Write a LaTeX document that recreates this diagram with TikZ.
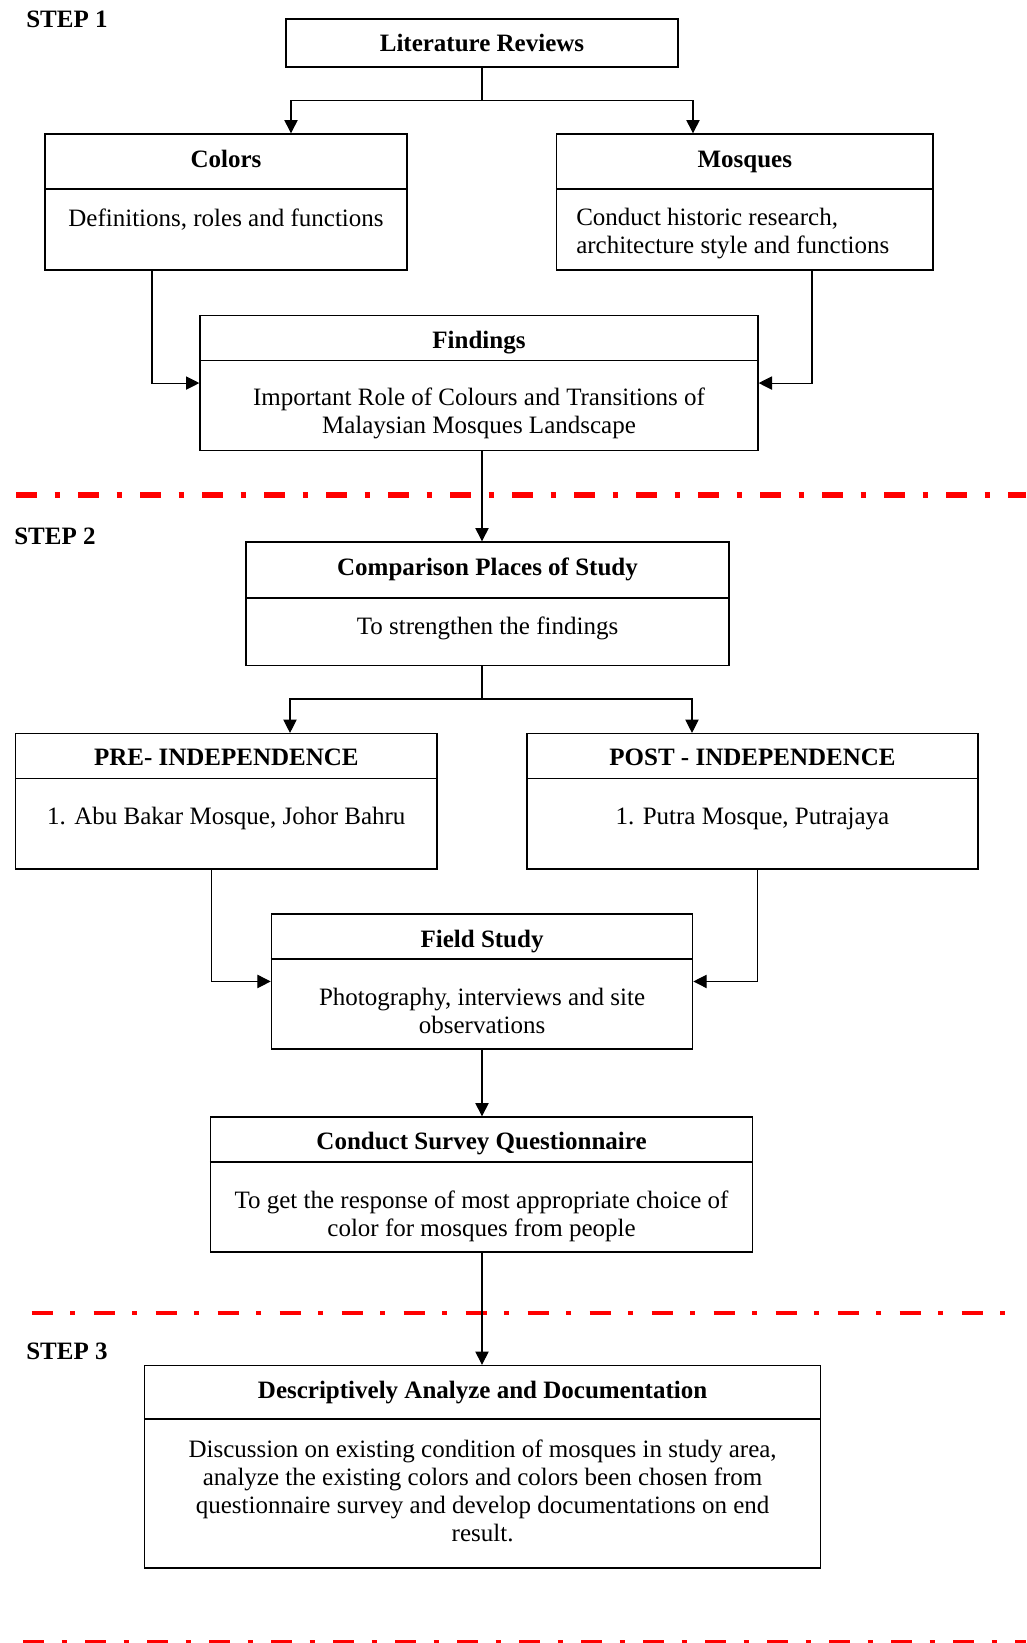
\documentclass[tikz,border=0pt]{standalone}
\usepackage{fontspec}
\setmainfont{Liberation Serif}
\usetikzlibrary{positioning,fit,arrows.meta}

\begin{document}
\begin{tikzpicture}[x=0.75pt, y=-0.75pt, font=\fontsize{18.75}{21}\selectfont]
    \tikzstyle{frame} = [draw=black, line width=1pt, inner sep=0pt, rectangle];
    \tikzstyle{divider} = [draw=black, line width=1pt];
    \tikzstyle{title} = [font=\fontsize{18.75}{21}\selectfont\bfseries, inner sep=0pt, text height=12.4pt, text depth=0pt];
    \tikzstyle{body} = [align=center, inner sep=0pt];
    \tikzstyle{flow} = [draw=black, line width=0.8pt, -{Triangle[length=10pt, width=10pt]}];
    \tikzstyle{stepline} = [draw=red, dash pattern=on 15.75pt off 13.3pt on 3.75pt off 13.7pt];
    \useasboundingbox (0,0) rectangle (1026,1643);

    % step 1
    \node [title, anchor=west] (step1) at (26,19) {STEP 1};
    \node [frame, fit={(286,19) (678,67)}] (lit) {};
    \node [title] (litT) at (lit.center) {Literature Reviews};

    \node [frame, fit={(45,134) (407,270)}] (col) {};
    \draw [divider] (col.west |- 0,189) -- (col.east |- 0,189);
    \node [title] (colT) at (col.north |- 0,159) {Colors};
    \node [body] (colB) at (col.north |- 0,219.5) {Definitions, roles and functions};

    \node [frame, fit={(556.5,134) (933,270)}] (mos) {};
    \draw [divider] (mos.west |- 0,189) -- (mos.east |- 0,189);
    \node [title] (mosT) at (mos.north |- 0,159) {Mosques};
    \node [body, align=left, anchor=west] (mosB) at (576,234) {Conduct historic research,\\architecture style and functions};

    \node [frame, fit={(200,315.5) (758,450.6)}] (fin) {};
    \draw [divider] (fin.west |- 0,360.5) -- (fin.east |- 0,360.5);
    \node [title] (finT) at (fin.north |- 0,340) {Findings};
    \node [body] (finB) at (fin.north |- 0,413.5) {Important Role of Colours and Transitions of\\Malaysian Mosques Landscape};

    \coordinate (spine) at (482,0);
    \coordinate (litL) at (291,100.6);
    \coordinate (litR) at (693,100.6);
    \coordinate (colout) at (152,0);
    \coordinate (mosout) at (812,0);
    \draw [flow] (lit.south) |- (litL) -- (col.north -| litL);
    \draw [flow] (lit.south) |- (litR) -- (mos.north -| litR);
    \draw [flow] (col.south -| colout) |- (fin.west);
    \draw [flow] (mos.south -| mosout) |- (fin.east);

    \draw [stepline, line width=4.5pt] (16,495) -- (1026,495);

    % step 2
    \node [title, anchor=west] (step2) at (14,536.5) {STEP 2};
    \node [frame, fit={(246,542) (729,665.5)}] (cmp) {};
    \draw [divider] (cmp.west |- 0,598) -- (cmp.east |- 0,598);
    \node [title] (cmpT) at (cmp.north |- 0,567) {Comparison Places of Study};
    \node [body] (cmpB) at (cmp.north |- 0,628) {To strengthen the findings};

    \node [frame, fit={(15.7,733.6) (437,869)}] (pre) {};
    \draw [divider] (pre.west |- 0,778.6) -- (pre.east |- 0,778.6);
    \node [title] (preT) at (pre.north |- 0,757.7) {PRE- INDEPENDENCE};
    \node [body] (preB) at (pre.north |- 0,818.9) {1. Abu Bakar Mosque, Johor Bahru};

    \node [frame, fit={(527,733.6) (978,869)}] (post) {};
    \draw [divider] (post.west |- 0,778.6) -- (post.east |- 0,778.6);
    \node [title] (postT) at (post.north |- 0,757.7) {POST - INDEPENDENCE};
    \node [body] (postB) at (post.north |- 0,819.4) {1. Putra Mosque, Putrajaya};

    \node [frame, fit={(271.4,913.9) (692.7,1049)}] (fld) {};
    \draw [divider] (fld.west |- 0,959) -- (fld.east |- 0,959);
    \node [title] (fldT) at (fld.north |- 0,939) {Field Study};
    \node [body] (fldB) at (fld.north |- 0,1011) {Photography, interviews and site\\observations};

    \node [frame, fit={(210.6,1117) (752.5,1252)}] (srv) {};
    \draw [divider] (srv.west |- 0,1162) -- (srv.east |- 0,1162);
    \node [title] (srvT) at (srv.north |- 0,1141) {Conduct Survey Questionnaire};
    \node [body] (srvB) at (srv.north |- 0,1216) {To get the response of most appropriate choice of\\color for mosques from people};

    \coordinate (cmpL) at (290,699);
    \coordinate (cmpR) at (692,699);
    \coordinate (preout) at (211.7,0);
    \coordinate (postout) at (757.5,0);
    \draw [flow] (fin.south -| spine) -- (cmp.north -| spine);
    \draw [flow] (cmp.south -| spine) |- (cmpL) -- (pre.north -| cmpL);
    \draw [flow] (cmp.south -| spine) |- (cmpR) -- (post.north -| cmpR);
    \draw [flow] (pre.south -| preout) |- (fld.west);
    \draw [flow] (post.south -| postout) |- (fld.east);
    \draw [flow] (fld.south -| spine) -- (srv.north -| spine);

    \draw [stepline, line width=3.5pt] (31.5,1313) -- (1013,1313);

    % step 3
    \node [title, anchor=west] (step3) at (26,1351) {STEP 3};
    \node [frame, fit={(144.6,1365.5) (820.6,1568)}] (ana) {};
    \draw [divider] (ana.west |- 0,1419) -- (ana.east |- 0,1419);
    \node [title] (anaT) at (ana.north |- 0,1390.7) {Descriptively Analyze and Documentation};
    \node [body] (anaB) at (ana.north |- 0,1490.5) {Discussion on existing condition of mosques in study area,\\analyze the existing colors and colors been chosen from\\questionnaire survey and develop documentations on end\\result.};
    \draw [flow] (srv.south -| spine) -- (ana.north -| spine);

    \draw [stepline, line width=4.5pt] (23,1643) -- (1026,1643);
\end{tikzpicture}
\end{document}
